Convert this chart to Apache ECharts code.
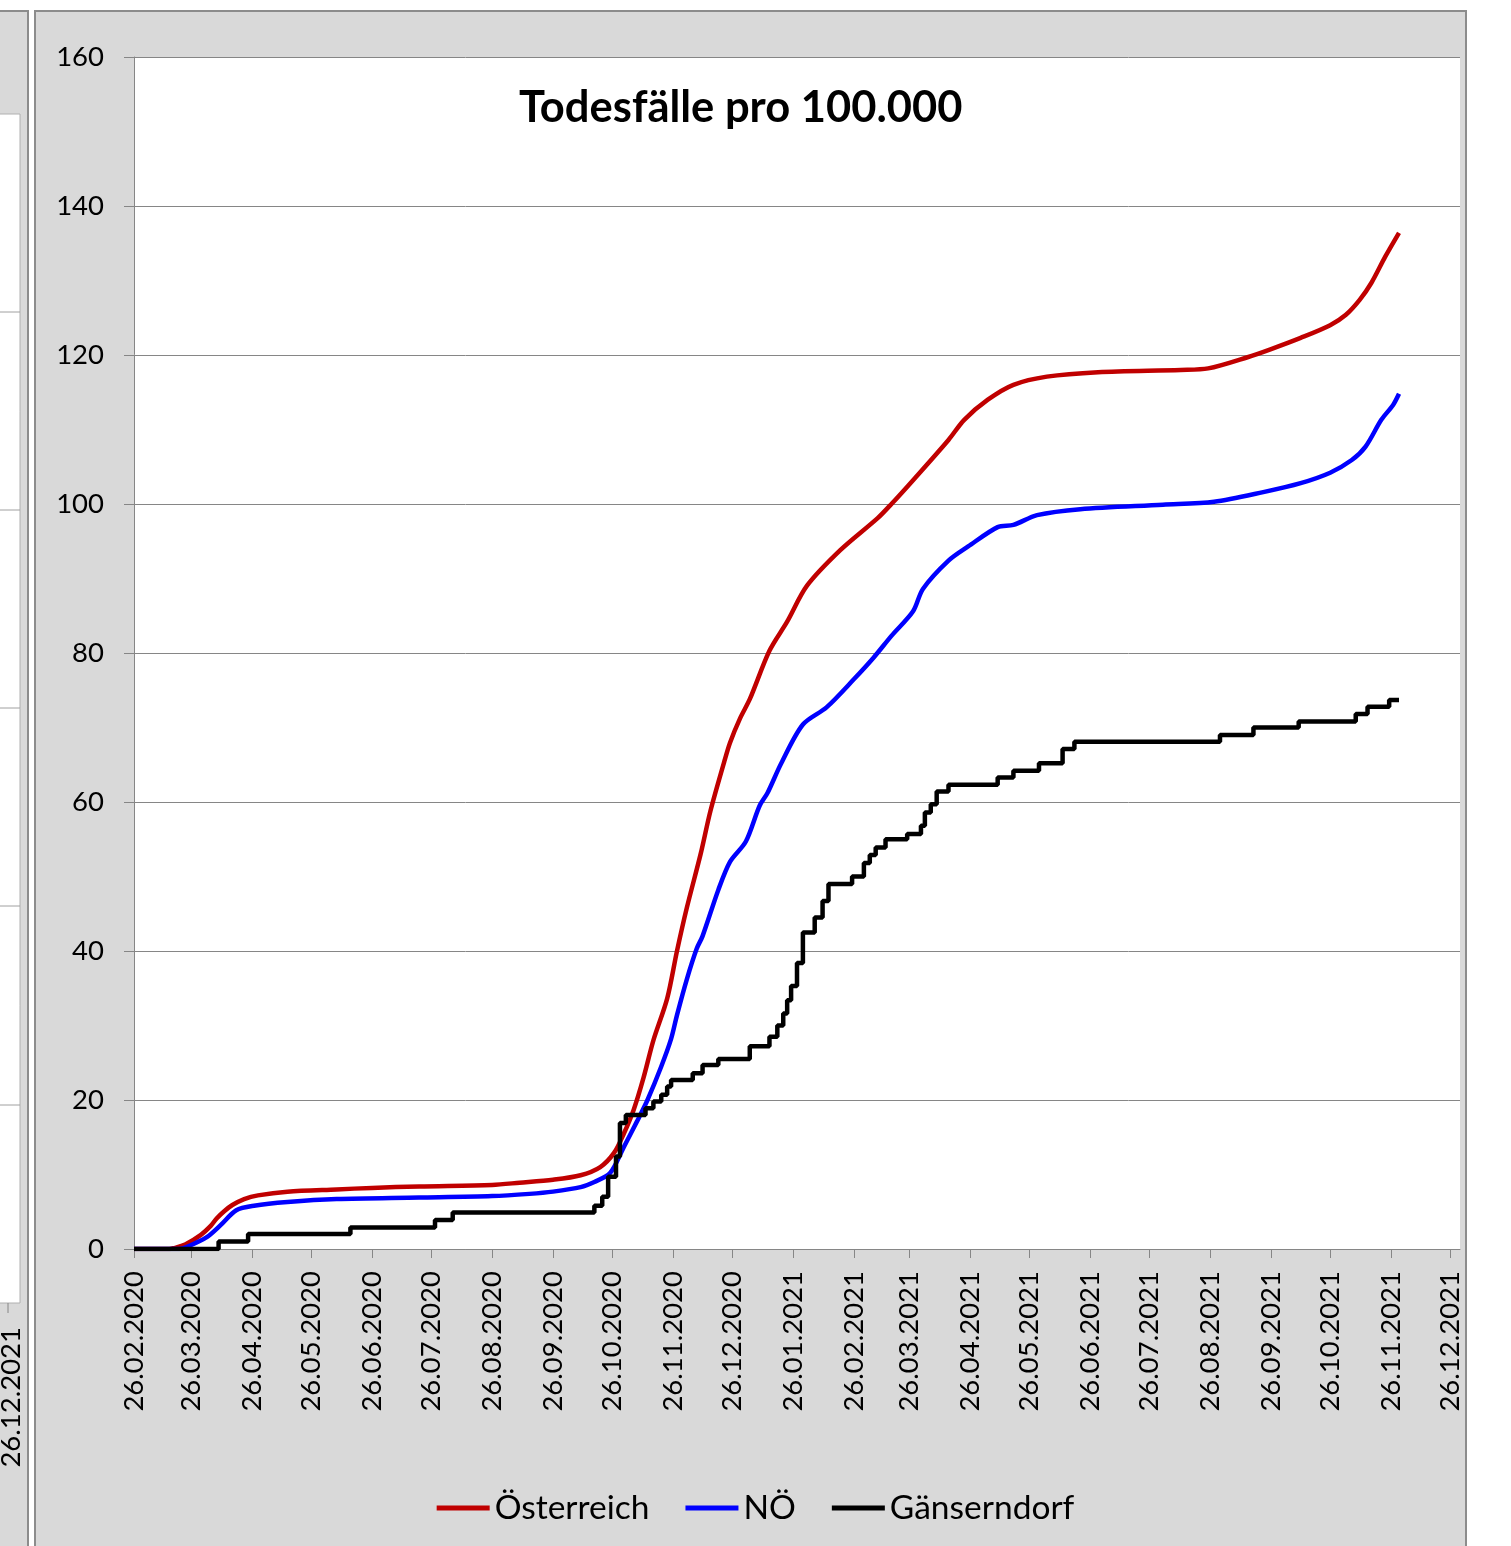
<!DOCTYPE html>
<html>
<head>
<meta charset="utf-8">
<script src="https://cdn.jsdelivr.net/npm/echarts@6/dist/echarts.min.js"></script>
<style>
html,body{margin:0;padding:0;background:#fff;}
#chart{width:1511px;height:1546px;}
</style>
</head>
<body>
<div id="chart"></div>
<script>
// ---- data ----
const tickLabels = ['26.02.2020','26.03.2020','26.04.2020','26.05.2020','26.06.2020','26.07.2020',
  '26.08.2020','26.09.2020','26.10.2020','26.11.2020','26.12.2020','26.01.2021','26.02.2021',
  '26.03.2021','26.04.2021','26.05.2021','26.06.2021','26.07.2021','26.08.2021','26.09.2021',
  '26.10.2021','26.11.2021','26.12.2021'];

const seriesNames = ['Österreich', 'NÖ', 'Gänserndorf'];

const oeDates = ['2020-02-26','2020-03-15','2020-03-17','2020-03-23','2020-03-31','2020-04-05','2020-04-08',
  '2020-04-12','2020-04-16','2020-04-22','2020-04-29','2020-05-14','2020-06-08','2020-06-26','2020-07-20',
  '2020-08-26','2020-09-09','2020-09-26','2020-10-10','2020-10-20','2020-10-27','2020-11-01','2020-11-06',
  '2020-11-11','2020-11-16','2020-11-23','2020-11-28','2020-12-03','2020-12-10','2020-12-15','2020-12-22',
  '2020-12-25','2020-12-30','2021-01-04','2021-01-14','2021-01-23','2021-02-02','2021-02-19','2021-03-10',
  '2021-03-17','2021-03-28','2021-04-15','2021-04-23','2021-05-05','2021-05-18','2021-06-04','2021-06-30',
  '2021-08-11','2021-08-25','2021-09-14','2021-09-26','2021-10-11','2021-10-26','2021-11-03','2021-11-10',
  '2021-11-16','2021-11-23','2021-11-30'];
const oeValues = [0,0,0.1,0.6,1.9,3.1,4.1,
  5.1,5.9,6.7,7.2,7.7,8.0,8.2,8.4,
  8.6,8.9,9.3,9.9,11.0,12.9,15.5,18.7,
  23.0,28.0,33.6,40.0,45.8,53.0,58.8,65.4,
  68.0,71.2,73.8,80.3,84.2,89.0,93.8,98.1,
  100.0,103.2,108.6,111.3,114.0,116.0,117.1,117.7,
  118.0,118.2,119.7,120.8,122.3,124.0,125.4,127.4,
  129.7,133.2,136.4];

const noeDates = ['2020-02-26','2020-03-20','2020-03-24','2020-04-03','2020-04-10','2020-04-18','2020-04-27',
  '2020-05-14','2020-06-08','2020-07-20','2020-08-26','2020-09-14','2020-09-26','2020-10-10','2020-10-17',
  '2020-10-25','2020-11-01','2020-11-08','2020-11-13','2020-11-20','2020-11-25','2020-11-28','2020-12-03',
  '2020-12-08','2020-12-11','2020-12-19','2020-12-25','2021-01-02','2021-01-09','2021-01-13','2021-01-20',
  '2021-01-31','2021-02-12','2021-02-26','2021-03-08','2021-03-17','2021-03-28','2021-04-02','2021-04-15',
  '2021-04-25','2021-05-10','2021-05-18','2021-05-30','2021-06-21','2021-08-02','2021-08-28','2021-09-22',
  '2021-10-11','2021-10-26','2021-11-06','2021-11-13','2021-11-21','2021-11-27','2021-11-30'];
const noeValues = [0,0,0.3,1.6,3.2,5.2,5.8,
  6.3,6.7,6.9,7.1,7.4,7.7,8.3,9.0,
  10.2,13.7,17.3,20.0,24.5,28.2,31.4,36.2,
  40.3,42.0,48.2,52.0,54.7,59.5,61.2,65.2,
  70.4,72.7,76.5,79.4,82.3,85.6,88.6,92.4,
  94.3,96.9,97.2,98.5,99.3,99.9,100.3,101.6,
  102.8,104.2,105.9,107.7,111.3,113.3,114.8];

// Gänserndorf: dates on which the value changes, and the new value
const gdDates = ['2020-02-26','2020-04-09','2020-04-24','2020-06-15','2020-07-28','2020-08-06','2020-10-17',
  '2020-10-21','2020-10-24','2020-10-28','2020-10-30','2020-11-02','2020-11-12','2020-11-16','2020-11-20',
  '2020-11-23','2020-11-25','2020-12-06','2020-12-11','2020-12-19','2021-01-04','2021-01-14','2021-01-18',
  '2021-01-21','2021-01-23','2021-01-25','2021-01-28','2021-01-31','2021-02-06','2021-02-10','2021-02-13',
  '2021-02-25','2021-03-03','2021-03-06','2021-03-09','2021-03-14','2021-03-25','2021-04-01','2021-04-03',
  '2021-04-06','2021-04-09','2021-04-15','2021-05-10','2021-05-18','2021-05-31','2021-06-12','2021-06-18',
  '2021-08-31','2021-09-17','2021-10-10','2021-11-08','2021-11-14','2021-11-25','2021-11-30'];
const gdValues = [0,1.0,2.0,2.9,3.9,4.9,5.8,
  7.0,9.7,12.4,16.9,18.0,18.9,19.8,20.7,
  21.8,22.7,23.6,24.7,25.5,27.2,28.5,30.0,
  31.6,33.4,35.3,38.4,42.5,44.5,46.7,49.0,
  50.0,51.8,52.9,53.9,55.0,55.7,56.8,58.6,
  59.7,61.4,62.3,63.3,64.2,65.2,67.1,68.1,
  69.0,70.0,70.8,71.8,72.8,73.7,73.7];

// ---- helpers ----
const DAY = 86400000;
const T0 = Date.UTC(2020, 1, 26);
function dayOfIso(s){ const p = s.split('-').map(Number); return (Date.UTC(p[0], p[1]-1, p[2]) - T0) / DAY; }
function dayOfLabel(s){ const p = s.split('.').map(Number); return (Date.UTC(p[2], p[1]-1, p[0]) - T0) / DAY; }
function pad(n){ return (n < 10 ? '0' : '') + n; }
function fmt(v){ const d = new Date(T0 + Math.round(v) * DAY); return pad(d.getUTCDate()) + '.' + pad(d.getUTCMonth()+1) + '.' + d.getUTCFullYear(); }
function pairs(dates, vals){ return dates.map((d, i) => [dayOfIso(d), vals[i]]); }

const tickVals = tickLabels.map(dayOfLabel);
const FONT = 'Lato';
const AXIS_GRAY = '#868686';

const chart = echarts.init(document.getElementById('chart'), null, {renderer: 'canvas'});
chart.setOption({
  animation: false,
  backgroundColor: '#ffffff',
  graphic: [
    {type: 'rect', z: -10, shape: {x: -10, y: 11, width: 38, height: 1560}, style: {fill: '#d9d9d9', stroke: '#8c8c8c', lineWidth: 2}},
    {type: 'rect', z: -9, shape: {x: -5, y: 114, width: 25, height: 1189}, style: {fill: '#ffffff', stroke: '#b0b0b0', lineWidth: 1}},
    {type: 'line', z: -8, shape: {x1: 0, y1: 312, x2: 20, y2: 312}, style: {stroke: '#a0a0a0', lineWidth: 1}},
    {type: 'line', z: -8, shape: {x1: 0, y1: 510, x2: 20, y2: 510}, style: {stroke: '#a0a0a0', lineWidth: 1}},
    {type: 'line', z: -8, shape: {x1: 0, y1: 708, x2: 20, y2: 708}, style: {stroke: '#a0a0a0', lineWidth: 1}},
    {type: 'line', z: -8, shape: {x1: 0, y1: 906, x2: 20, y2: 906}, style: {stroke: '#a0a0a0', lineWidth: 1}},
    {type: 'line', z: -8, shape: {x1: 0, y1: 1105, x2: 20, y2: 1105}, style: {stroke: '#a0a0a0', lineWidth: 1}},
    {type: 'line', z: -8, shape: {x1: 8, y1: 1303, x2: 8, y2: 1313}, style: {stroke: AXIS_GRAY, lineWidth: 1}},
    {type: 'text', z: -8, x: 11, y: 1327, rotation: Math.PI / 2,
      style: {text: '26.12.2021', fill: '#000', font: '27.5px Lato', align: 'right', verticalAlign: 'middle'}},
    {type: 'rect', z: -10, shape: {x: 35, y: 11, width: 1431, height: 1560}, style: {fill: '#d9d9d9', stroke: '#8c8c8c', lineWidth: 2}}
  ],
  title: {
    text: 'Todesfälle pro 100.000',
    left: 514, top: 81,
    textStyle: {fontFamily: FONT, fontWeight: 'bold', fontSize: 43.5, color: '#000'}
  },
  legend: {
    data: seriesNames,
    left: 'center', top: 1486,
    icon: 'rect', itemWidth: 53, itemHeight: 5, itemGap: 36,
    textStyle: {fontFamily: FONT, fontSize: 33.5, color: '#000'}
  },
  grid: {left: 134, right: 51, top: 57, bottom: 297, show: true, backgroundColor: '#ffffff', borderWidth: 0, containLabel: false},
  xAxis: {
    type: 'value', min: 0, max: 674,
    splitLine: {show: false},
    axisLine: {show: true, onZero: false, lineStyle: {color: AXIS_GRAY, width: 1}},
    axisTick: {show: true, length: 9, customValues: tickVals, lineStyle: {color: AXIS_GRAY}},
    axisLabel: {customValues: tickVals, rotate: 90, margin: 22, formatter: fmt,
      fontFamily: FONT, fontSize: 27.5, color: '#000'}
  },
  yAxis: {
    type: 'value', min: 0, max: 160, interval: 20,
    axisLine: {show: true, lineStyle: {color: AXIS_GRAY, width: 1}},
    axisTick: {show: true, length: 10, lineStyle: {color: AXIS_GRAY}},
    axisLabel: {margin: 30, fontFamily: FONT, fontSize: 27.5, color: '#000'},
    splitLine: {show: true, lineStyle: {color: AXIS_GRAY, width: 1}}
  },
  series: [
    {name: seriesNames[0], type: 'line', data: pairs(oeDates, oeValues), showSymbol: false, symbol: 'none',
      smooth: 0.3, lineStyle: {color: '#c00000', width: 4.5}, itemStyle: {color: '#c00000'}},
    {name: seriesNames[1], type: 'line', data: pairs(noeDates, noeValues), showSymbol: false, symbol: 'none',
      smooth: 0.3, lineStyle: {color: '#0000ff', width: 4.5}, itemStyle: {color: '#0000ff'}},
    {name: seriesNames[2], type: 'line', data: pairs(gdDates, gdValues), showSymbol: false, symbol: 'none',
      step: 'end', lineStyle: {color: '#000000', width: 4.5}, itemStyle: {color: '#000000'}}
  ]
});
</script>
</body>
</html>
